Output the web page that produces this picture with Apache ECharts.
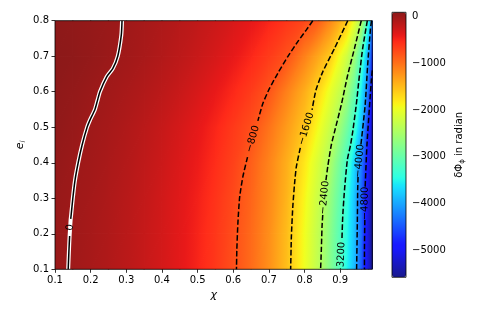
<!DOCTYPE html>
<html><head><meta charset="utf-8">
<script src="https://cdn.jsdelivr.net/npm/echarts@6/dist/echarts.min.js"></script>
<style>html,body{margin:0;padding:0;background:#fff}#c{width:485px;height:323px}</style>
</head><body><div id="c"></div>
<script>
// ---------- data ----------
const chiCols = [0.10,0.15,0.20,0.25,0.30,0.35,0.40,0.45,0.50,0.55,0.60,0.65,0.70,0.75,0.80,0.84,0.87,0.90,0.92,0.94,0.96,0.97,0.98,0.99];
const eRows = [0.1,0.2,0.3,0.4,0.5,0.6,0.7,0.8];
const phiE10 = [26,-10,-51,-98,-154,-218,-293,-382,-488,-615,-768,-961,-1202,-1517,-1960,-2352,-2751,-3172,-3527,-3880,-4470,-4871,-5225,-5580];
const phiE20 = [30,-6,-46,-93,-149,-212,-287,-376,-481,-607,-758,-950,-1190,-1500,-1945,-2325,-2710,-3130,-3480,-3830,-4380,-4860,-5210,-5560];
const phiE30 = [38,0,-38,-84,-139,-200,-273,-360,-462,-585,-730,-915,-1150,-1450,-1888,-2260,-2618,-3055,-3405,-3815,-4440,-4840,-5167,-5500];
const phiE40 = [50,14,-22,-66,-118,-177,-247,-330,-428,-545,-680,-875,-1120,-1410,-1791,-2155,-2447,-2918,-3246,-3703,-4267,-4650,-5025,-5400];
const phiE50 = [72,35,-8,-45,-95,-152,-218,-296,-388,-497,-625,-765,-1005,-1280,-1570,-1941,-2234,-2608,-2928,-3289,-3881,-4320,-4841,-5250];
const phiE60 = [85,55,18,-17,-57,-105,-162,-230,-310,-405,-515,-640,-810,-1100,-1405,-1698,-1990,-2283,-2573,-3005,-3583,-3930,-4427,-4960];
const phiE70 = [94,80,52,18,-18,-59,-108,-165,-228,-306,-396,-505,-635,-785,-1100,-1370,-1580,-1954,-2216,-2585,-3200,-3621,-4067,-4730];
const phiE80 = [88,72,48,20,-8,-45,-85,-131,-184,-244,-313,-394,-488,-600,-718,-880,-1130,-1410,-1590,-2000,-2447,-2920,-3491,-4250];
const colorMin = -5580, colorMax = 94;

const xTicks = [0.1,0.2,0.3,0.4,0.5,0.6,0.7,0.8,0.9];
const yTicks = [0.1,0.2,0.3,0.4,0.5,0.6,0.7,0.8];
const cbTicks = [0,-1000,-2000,-3000,-4000,-5000];

const contourLevels = [0,-800,-1600,-2400,-3200,-4000,-4800];
// [chi, e] points along each contour, null = gap left for the inline label
const contour0 = [[0.288,0.80],[0.286,0.76],[0.276,0.70],[0.262,0.665],[0.245,0.642],[0.226,0.60],[0.219,0.575],[0.212,0.55],[0.198,0.52],[0.190,0.50],[0.176,0.45],[0.165,0.40],[0.156,0.35],[0.150,0.30],[0.145,0.25],[0.144,0.242],null,[0.141,0.194],[0.139,0.15],[0.137,0.10]];
const contour800 = [[0.823,0.80],[0.805,0.774],[0.781,0.741],[0.753,0.699],[0.725,0.652],[0.702,0.610],[0.683,0.567],[0.669,0.518],null,[0.640,0.416],[0.627,0.361],[0.618,0.304],[0.613,0.23],[0.610,0.154],[0.609,0.10]];
const contour1600 = [[0.921,0.80],[0.884,0.722],[0.851,0.656],[0.832,0.605],[0.821,0.549],null,[0.788,0.442],[0.777,0.389],[0.772,0.342],[0.767,0.276],[0.763,0.192],[0.761,0.10]];
const contour2400 = [[0.959,0.80],[0.940,0.722],[0.921,0.647],[0.903,0.563],[0.884,0.487],[0.875,0.450],[0.865,0.389],[0.860,0.351],null,[0.851,0.253],[0.849,0.22],[0.847,0.154],[0.845,0.10]];
const contour3200 = [[0.976,0.80],[0.963,0.722],[0.954,0.647],[0.945,0.563],[0.935,0.487],[0.929,0.450],[0.920,0.408],[0.912,0.323],[0.907,0.248],[0.905,0.188],null,[0.901,0.072]];
const contour4000 = [[0.988,0.80],[0.985,0.779],[0.977,0.675],[0.970,0.563],[0.958,0.45],null,[0.950,0.36],[0.949,0.323],[0.948,0.23],[0.946,0.10]];
const contour4800 = [[0.99,0.66],[0.987,0.628],[0.975,0.45],[0.970,0.332],null,[0.969,0.239],[0.968,0.15],[0.968,0.10]];

// ---------- build ----------
const phiRows = [phiE10,phiE20,phiE30,phiE40,phiE50,phiE60,phiE70,phiE80];
const contours = [contour0,contour800,contour1600,contour2400,contour3200,contour4000,contour4800];
const FONT = "'DejaVu Sans', sans-serif";

const jetR=[[0,0],[0.35,0],[0.66,1],[0.89,1],[1,0.5]];
const jetG=[[0,0],[0.125,0],[0.375,1],[0.64,1],[0.91,0],[1,0]];
const jetB=[[0,0.5],[0.11,1],[0.34,1],[0.65,0],[1,0]];
const ALPHA = 0.9;
function seg(p,t){for(let i=1;i<p.length;i++){if(t<=p[i][0]){const a=p[i-1],b=p[i];return a[1]+(b[1]-a[1])*(t-a[0])/(b[0]-a[0]);}}return p[p.length-1][1];}
function cmap(v){let t=(v-colorMin)/(colorMax-colorMin);t=Math.max(0,Math.min(1,t));
  const f=c=>Math.round(255*(ALPHA*c+1-ALPHA));
  return 'rgb('+f(seg(jetR,t))+','+f(seg(jetG,t))+','+f(seg(jetB,t))+')';}
const jetStops=[];for(let k=0;k<=80;k++)jetStops.push(cmap(colorMin+(colorMax-colorMin)*k/80));

const cellData=[];
for(let j=0;j<eRows.length-1;j++)for(let i=0;i<chiCols.length-1;i++)
  cellData.push([chiCols[i],eRows[j],chiCols[i+1],eRows[j+1],phiRows[j][i],phiRows[j][i+1],phiRows[j+1][i],phiRows[j+1][i+1]]);

function tri(a,b,c,va,vb,vc){
  const det=(b[0]-a[0])*(c[1]-a[1])-(c[0]-a[0])*(b[1]-a[1]);
  const gx=((vb-va)*(c[1]-a[1])-(vc-va)*(b[1]-a[1]))/det;
  const gy=((b[0]-a[0])*(vc-va)-(c[0]-a[0])*(vb-va))/det;
  const vmin=Math.min(va,vb,vc),vmax=Math.max(va,vb,vc),g2=gx*gx+gy*gy;
  let fill;
  if(vmax-vmin<1e-6||g2<1e-12||!isFinite(g2)){fill=cmap(va);}
  else{
    const pad=(vmax-vmin)*0.1;
    const lo=vmin-pad,hi=vmax+pad;
    const s=(lo-va)/g2,e=(hi-va)/g2;
    const n=Math.min(36,Math.max(3,Math.ceil((hi-lo)/50)));
    const stops=[];for(let k=0;k<=n;k++)stops.push({offset:k/n,color:cmap(lo+(hi-lo)*k/n)});
    fill={type:'linear',x:a[0]+gx*s,y:a[1]+gy*s,x2:a[0]+gx*e,y2:a[1]+gy*e,colorStops:stops,global:true};}
  return {type:'polygon',shape:{points:[a,b,c]},style:{fill:fill,stroke:fill,lineWidth:1.3,lineJoin:'round'}};
}
const fmt=v=>v<0?'\u2212'+(-v):String(v);
const toLine=arr=>arr.map(p=>p===null?['-','-']:p);
const labelData=contours.map((arr,k)=>{const g=arr.indexOf(null);const u=arr[g-1],l=arr[g+1];return [u[0],u[1],l[0],l[1],contourLevels[k]];});

const series=[{
  type:'custom',xAxisIndex:0,yAxisIndex:0,data:cellData,encode:{x:[0,2],y:[1,3]},clip:true,silent:true,z:1,
  renderItem:function(params,api){
    const x0=api.value(0),y0=api.value(1),x1=api.value(2),y1=api.value(3);
    const p00=api.coord([x0,y0]),p10=api.coord([x1,y0]),p01=api.coord([x0,y1]),p11=api.coord([x1,y1]);
    const v00=api.value(4),v10=api.value(5),v01=api.value(6),v11=api.value(7);
    return {type:'group',children:[tri(p00,p10,p11,v00,v10,v11),tri(p00,p11,p01,v00,v11,v01)]};
  }
}];
series.push({type:'line',xAxisIndex:0,yAxisIndex:0,data:toLine(contour0),connectNulls:true,symbol:'none',silent:true,z:3,smooth:0.2,
  lineStyle:{color:'#fff',width:4}});
contours.forEach((arr,k)=>{
  series.push({type:'line',xAxisIndex:0,yAxisIndex:0,data:toLine(arr),connectNulls:false,symbol:'none',silent:true,z:4,smooth:0.2,
    lineStyle:{color:'#000',width:1.5,type:contourLevels[k]<0?[5.5,2.4]:'solid'}});
});
series.push({type:'custom',xAxisIndex:0,yAxisIndex:0,data:labelData,encode:{x:[0,2],y:[1,3]},clip:true,silent:true,z:6,
  renderItem:function(params,api){
    const pu=api.coord([api.value(0),api.value(1)]),pl=api.coord([api.value(2),api.value(3)]);
    let ang=Math.atan2(pl[1]-pu[1],pu[0]-pl[0]);
    if(ang>Math.PI/2)ang-=Math.PI;if(ang<-Math.PI/2)ang+=Math.PI;
    return {type:'text',x:(pu[0]+pl[0])/2,y:(pu[1]+pl[1])/2,rotation:ang,
      style:{text:fmt(api.value(4)),align:'center',verticalAlign:'middle',fontSize:10,fontFamily:FONT,fill:'#000'}};
  }});

const tickStyle={show:true,length:3.5,lineStyle:{color:'#000',width:0.8}};
const labStyle={color:'#000',fontSize:10,fontFamily:FONT,margin:6};
const option={
  animation:false,
  backgroundColor:'#fff',
  textStyle:{fontFamily:FONT},
  grid:[
    {left:55,right:112.7,top:20.7,bottom:53.7,show:true,borderColor:'#000',borderWidth:0.8,backgroundColor:'transparent',z:10},
    {left:392,right:79,top:12.3,bottom:45.7,show:true,borderColor:'#000',borderWidth:0.8,backgroundColor:'transparent',z:10}
  ],
  xAxis:[
    {type:'value',gridIndex:0,min:0.1,max:0.99,interval:0.1,axisLine:{show:false},splitLine:{show:false},
     axisTick:Object.assign({customValues:xTicks},tickStyle),
     axisLabel:Object.assign({customValues:xTicks,formatter:v=>v.toFixed(1)},labStyle),
     name:'\u03c7',nameLocation:'middle',nameGap:20,nameMoveOverlap:false,nameTextStyle:{fontSize:11,fontStyle:'italic',color:'#000',fontFamily:FONT}},
    {type:'value',gridIndex:1,min:0,max:1,show:false}
  ],
  yAxis:[
    {type:'value',gridIndex:0,min:0.1,max:0.8,interval:0.1,axisLine:{show:false},splitLine:{show:false},
     axisTick:Object.assign({customValues:yTicks},tickStyle),
     axisLabel:Object.assign({customValues:yTicks,formatter:v=>v.toFixed(1)},labStyle),
     name:'{a|e}{s|i}',nameLocation:'middle',nameGap:28,nameRotate:90,nameMoveOverlap:false,
     nameTextStyle:{color:'#000',rich:{a:{fontSize:11,fontStyle:'italic',fontFamily:FONT,lineHeight:14,verticalAlign:'middle'},
                                      s:{fontSize:7,fontStyle:'italic',fontFamily:FONT,lineHeight:8,verticalAlign:'bottom'}}}},
    {type:'value',gridIndex:1,position:'right',min:colorMin,max:colorMax,axisLine:{show:false},splitLine:{show:false},
     axisTick:Object.assign({customValues:cbTicks},tickStyle),
     axisLabel:Object.assign({customValues:cbTicks,formatter:fmt},labStyle),
     name:'{a|\u03b4\u03a6}{s|\u03d5}{a| in radian}',nameLocation:'middle',nameGap:46,nameRotate:90,nameMoveOverlap:false,
     nameTextStyle:{color:'#000',rich:{a:{fontSize:10,fontFamily:FONT,lineHeight:14,verticalAlign:'middle'},
                                      s:{fontSize:7,fontFamily:FONT,lineHeight:8,verticalAlign:'bottom'}}}}
  ],
  visualMap:{type:'continuous',min:colorMin,max:colorMax,seriesIndex:0,dimension:4,calculable:false,hoverLink:false,
    left:392,top:12.3,itemWidth:14,itemHeight:265,padding:0,inRange:{color:jetStops},z:2},
  series:series
};
const chart=echarts.init(document.getElementById('c'),null,{renderer:'canvas'});
chart.setOption(option);
</script></body></html>
